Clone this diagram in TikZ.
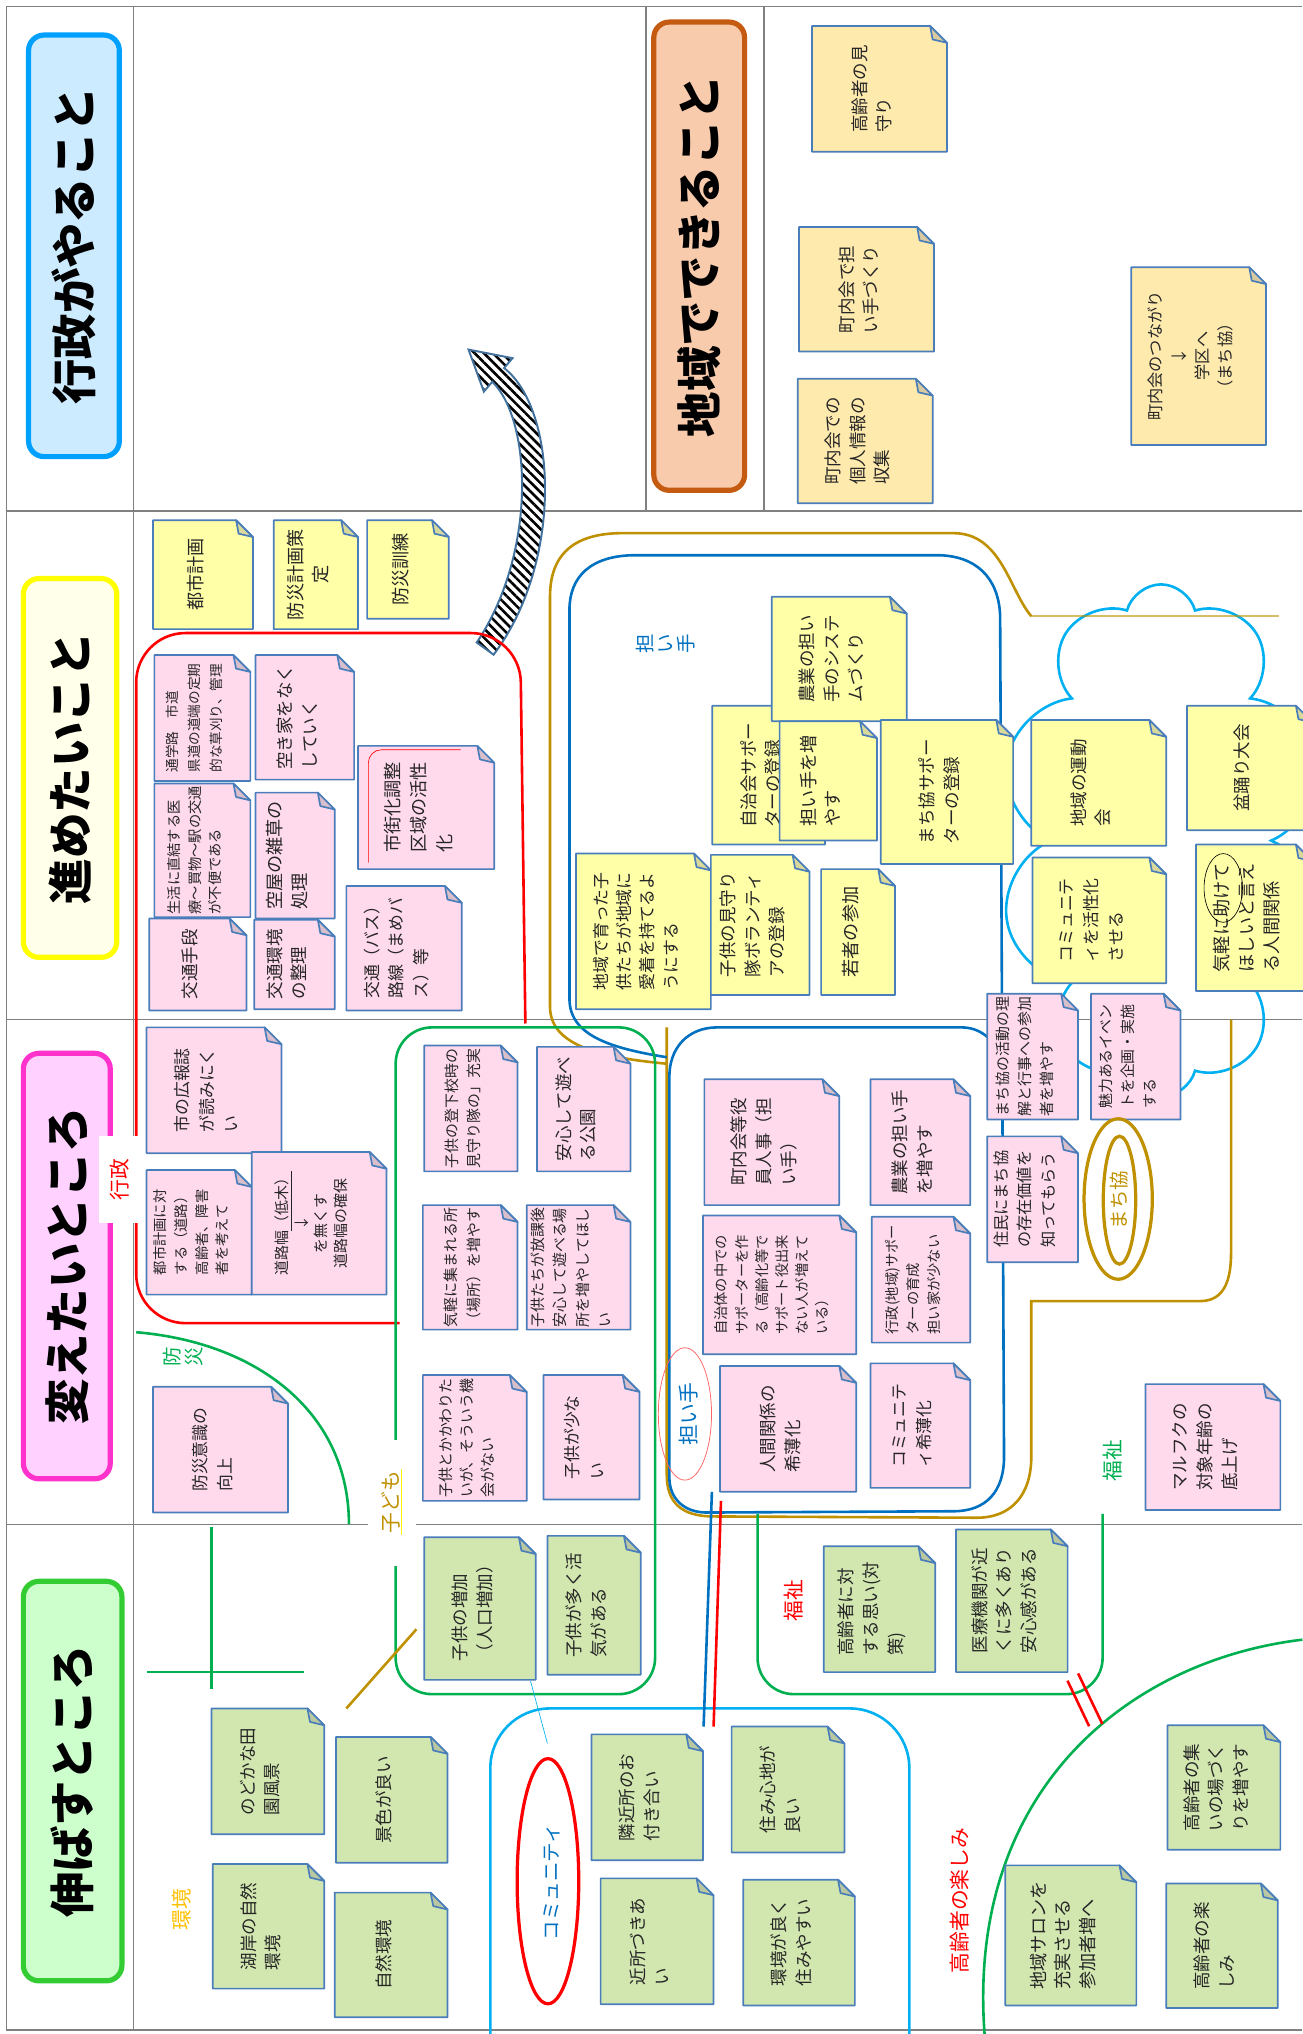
\documentclass[tikz,border=0pt]{standalone}
\usepackage{fontspec}
\setmainfont{Noto Sans CJK JP}
\usetikzlibrary{shapes.geometric,shapes.symbols,patterns.meta}
\definecolor{wakuiro}{HTML}{808080}
\definecolor{fusenwaku}{HTML}{4A7EBB}
\definecolor{fusenki}{HTML}{FFFFA8}
\definecolor{fusentan}{HTML}{FFEAAE}
\definecolor{fusenmomo}{HTML}{FFD9EC}
\definecolor{fusenmidori}{HTML}{D2E7B0}
\definecolor{gyoseiao}{HTML}{00A0FF}
\definecolor{gyoseifill}{HTML}{CDEBFF}
\definecolor{susumeki}{HTML}{FFFF00}
\definecolor{susumefill}{HTML}{FFFFEA}
\definecolor{kaetemomo}{HTML}{FF33CC}
\definecolor{kaetefill}{HTML}{FFD1FF}
\definecolor{nobasumidori}{HTML}{33CC33}
\definecolor{nobasufill}{HTML}{CCFFCC}
\definecolor{chiikicha}{HTML}{C55A11}
\definecolor{chiikifill}{HTML}{F8CBAD}
\definecolor{kiniro}{HTML}{BF9000}
\definecolor{aoiro}{HTML}{0070C0}
\definecolor{midoriiro}{HTML}{00B050}
\definecolor{mizuiro}{HTML}{00B0F0}
\definecolor{kankyoiro}{HTML}{FFC000}
\definecolor{yajiao}{HTML}{41719C}
\newcommand{\orisz}{13} % size of the folded corner
% sticky note: [text options]{name}{x1}{y1}{x2}{y2}{colour}{text}
\newcommand{\fusen}[8][]{%
  \filldraw[fusenline, fill=#7] (#3,#6) -- (#3,#4) -- (#5-\orisz,#4) -- (#5,#4+\orisz) -- (#5,#6) -- cycle;
  \filldraw[fusenline, fill=#7!70!gray] (#5-\orisz,#4) -- (#5,#4+\orisz) -- (#5-0.85*\orisz,#4+0.8*\orisz) -- cycle;
  \node[fusentext, #1] (#2) at ({(#3+#5)/2-6},{(#4+#6)/2}) {#8};}

\begin{document}
\begin{tikzpicture}[x=1pt, y=-1pt,
  waku/.style={draw=wakuiro, line width=1pt},
  midashi/.style={rotate=90, rounded corners=12pt, line width=4pt, inner sep=0pt,
    font=\bfseries\fontsize{35}{35}\selectfont},
  fusenline/.style={draw=fusenwaku, line width=1.3pt, line join=round},
  fusentext/.style={rotate=90, align=left, inner sep=0pt, text=black!85,
    font=\fontsize{13.5}{19}\selectfont},
  komidashi/.style={rotate=90, inner sep=1pt, font=\fontsize{16}{17}\selectfont},
  kinsen/.style={draw=kiniro, line width=2pt},
  aosen/.style={draw=aoiro, line width=2pt},
  akasen/.style={draw=red, line width=2pt},
  midorisen/.style={draw=midoriiro, line width=2pt},
  mizusen/.style={draw=mizuiro, line width=2pt}]
\useasboundingbox (0,0) rectangle (1004,1568);

% frame
\draw[waku] (1004,5) -- (5,5) -- (5,1565) -- (1004,1565);
\draw[waku] (103,5) -- (103,1565);
\draw[waku] (498,5) -- (498,394);
\draw[waku] (589,5) -- (589,394);
\foreach \gyo in {394,786,1175}
  \draw[waku] (5,\gyo) -- (1004,\gyo);

% headings
\node[midashi, draw=gyoseiao, fill=gyoseifill, minimum width=325pt, minimum height=70pt] (gyosei) at (57,189.5) {行政がやること};
\node[midashi, draw=susumeki, fill=susumefill, minimum width=292pt, minimum height=72pt] (susumeru) at (54,592) {進めたいこと};
\node[midashi, draw=kaetemomo, fill=kaetefill, minimum width=328pt, minimum height=67pt] (kaetai) at (51.5,976) {変えたいところ};
\node[midashi, draw=nobasumidori, fill=nobasufill, minimum width=308pt, minimum height=76pt] (nobasu) at (56,1373) {伸ばすところ};
\node[midashi, draw=chiikicha, fill=chiikifill, minimum width=361pt, minimum height=70pt] (chiiki) at (539,197.5) {地域でできること};

% curved arrow
\draw[yajiao, line width=1.5pt, preaction={fill=white},
  pattern={Lines[angle=-45, distance=5pt, line width=2pt]}, pattern color=black]
  (380.5,504.7) .. controls (434,434) and (430,316) .. (388.6,283.7) -- (395.1,276.1) -- (361.2,269.5)
  -- (373,301.9) -- (379.5,294.3) .. controls (410,324) and (414,426) .. (367.5,495.3) -- cycle;

% cloud
\node[cloud, cloud puffs=10, aspect=0.64, draw=mizuiro, line width=2pt,
  minimum width=250pt, minimum height=395pt] (kumo) at (895,648) {};

% regions
\draw[kinsen, draw opacity=0.6] (986,475) -- (795,475);
\draw[kinsen] (795,475) .. controls (778,455) and (772,411) .. (735,411) -- (480,411)
  .. controls (445,411) and (424,425) .. (424,460) -- (424,776)
  .. controls (424,805) and (460,815) .. (514,820);
\draw[kinsen] (514,792) -- (514,1137) .. controls (514,1158) and (525,1169) .. (550,1169)
  -- (753,1170) .. controls (780,1170) and (795,1152) .. (795,1123) -- (795,1003)
  -- (925,1003) .. controls (942,1003) and (949,990) .. (949,966) -- (949,786);
\draw[aosen] (514,815) .. controls (470,808) and (439,798) .. (439,770) -- (439,470)
  .. controls (439,445) and (455,428) .. (490,428) -- (722,428)
  .. controls (752,428) and (770,445) .. (771,475) -- (774,1123)
  .. controls (774,1150) and (760,1165) .. (735,1165) -- (545,1166)
  .. controls (527,1166) and (516,1155) .. (516,1139) -- (516,830)
  .. controls (516,808) and (530,792) .. (553,792) -- (741,792)
  .. controls (755,792) and (765,800) .. (773,815);
\draw[akasen, rounded corners=38pt] (308,1020) -- (105,1020) -- (105,488) -- (401,488) -- (405,789);
\draw[midorisen, rounded corners=28pt] (305,792) rectangle (505,1306);
\draw[midorisen] (105,1027) .. controls (200,1035) and (269,1090) .. (269,1175);
\draw[midorisen] (163,1177) -- (163,1302);
\draw[midorisen] (113,1289) -- (234,1289);
\draw[kinsen] (267,1317) -- (321,1256);
\draw[midorisen, rounded corners=28pt] (584,1167) -- (584,1306) -- (850,1306) -- (850,1167);
\draw[midorisen] (1004,1264) .. controls (870,1280) and (745,1380) .. (759,1568);
\draw[mizusen, rounded corners=46pt] (378,1568) -- (378,1317) -- (701,1317) -- (701,1568);
\draw[aosen] (548.8,1150) -- (542.4,1331);
\draw[akasen] (555.8,1157) -- (550.1,1331);
\draw[akasen] (822.9,1295.6) -- (839.6,1330.7);
\draw[akasen] (831.1,1290) -- (849.8,1329);

% top row notes
\fusen{mimamori}{626}{20}{730}{117}{fusentan}{高齢者の見\\守り}
\fusen{tantezukuri}{616}{175}{720}{271}{fusentan}{町内会で担\\い手づくり}
\fusen{kojinjoho}{615}{292}{719}{388}{fusentan}{町内会での\\個人情報の\\収集}
\fusen[align=center, font=\fontsize{12.5}{18}\selectfont]{tsunagari}{872}{206}{976}{343}{fusentan}{町内会のつながり\\↓\\学区へ\\（まち協）}

% notes to push forward
\fusen[align=center, font=\fontsize{14}{19}\selectfont]{toshikeikaku}{118}{401}{195}{485}{fusenki}{都市計画}
\fusen[align=center, font=\fontsize{14}{19}\selectfont]{bosaikeikaku}{211}{401}{276}{485}{fusenki}{防災計画策\\定}
\fusen[font=\fontsize{14}{19}\selectfont]{bosaikunren}{283}{401}{346}{477}{fusenki}{防災訓練}
\fusen[font=\fontsize{10.5}{17}\selectfont]{tsugakuro}{119}{505}{193}{602}{fusenmomo}{通学路　市道\\県道の道端の定期\\的な草刈り、管理}
\fusen[font=\fontsize{11}{16}\selectfont]{iryo}{119}{604}{193}{707}{fusenmomo}{生活に直結する医\\療～買物～駅の交通\\が不便である}
\fusen[align=center]{kotsushudan}{115}{708}{190}{779}{fusenmomo}{交通手段}
\fusen{akiya}{197}{505}{273}{601}{fusenmomo}{空き家をなく\\していく}
\fusen[font=\fontsize{14}{19}\selectfont]{zasso}{197}{611}{258}{708}{fusenmomo}{空屋の雑草の\\処理}
\fusen{kotsukankyo}{196}{709}{258}{778}{fusenmomo}{交通環境\\の整理}
\fusen[font=\fontsize{14}{20}\selectfont]{shigaika}{276}{575}{381}{670}{fusenmomo}{市街化調整\\区域の活性\\化}
\draw[red, line width=0.5pt, rounded corners=10pt] (284,665) -- (284,578) -- (355,578);
\fusen[font=\fontsize{13}{19}\selectfont]{basu}{267}{683}{356}{779}{fusenmomo}{交通（バス）\\路線（まめバ\\ス）等}

% helpers
\fusen{jichikai}{549}{544}{636}{651}{fusenki}{自治会サポー\\ターの登録}
\fusen{nogyosystem}{595}{460}{699}{556}{fusenki}{農業の担い\\手のシステ\\ムづくり}
\fusen[font=\fontsize{14}{19}\selectfont]{fuyasu}{601}{556}{676}{648}{fusenki}{担い手を増\\やす}
\fusen{machikyosupporter}{679}{555}{781}{666}{fusenki}{まち協サポー\\ターの登録}
\fusen[font=\fontsize{13}{18}\selectfont]{aichaku}{444}{658}{548}{778}{fusenki}{地域で育った子\\供たちが地域に\\愛着を持てるよ\\うにする}
\fusen{mimamoritai}{548}{659}{624}{767}{fusenki}{子供の見守り\\隊ボランティ\\アの登録}
\fusen[font=\fontsize{14}{19}\selectfont]{wakamono}{633}{670}{690}{767}{fusenki}{若者の参加}
\fusen{undokai}{795}{555}{899}{652}{fusenki}{地域の運動\\会}
\fusen[font=\fontsize{13}{19}\selectfont]{kasseika}{796}{661}{899}{758}{fusenki}{コミュニテ\\ィを活性化\\させる}
\fusen{bonodori}{915}{544}{1012}{640}{fusenki}{盆踊り大会}
\fusen[font=\fontsize{14}{19}\selectfont]{kigaruni}{922}{651}{1012}{764}{fusenki}{気軽に助けて\\ほしいと言え\\る人間関係}
\node[draw=black, line width=0.5pt, ellipse, minimum width=29.6pt, minimum height=53pt, inner sep=0pt] (tasukete) at (943,684.5) {};

% things to change
\fusen[font=\fontsize{13}{19}\selectfont]{kohoshi}{113}{792}{217}{889}{fusenmomo}{市の広報誌\\が読みにく\\い}
\fusen[font=\fontsize{11}{16}\selectfont]{toshikeikaku2}{113}{902}{194}{998}{fusenmomo}{都市計画に対\\する（道路）\\高齢者、障害\\者を考えて}
\fusen[align=center, font=\fontsize{11.5}{15}\selectfont]{dorohaba}{194}{888}{298}{998}{fusenmomo}{道路幅\underline{（低木）}\\↓\\を無くす\\道路幅の確保}
\fusen[font=\fontsize{11.5}{17}\selectfont]{noborigeko}{327}{806}{399}{903}{fusenmomo}{子供の登下校時の\\見守り隊の」充実}
\fusen{asoberu}{414}{807}{486}{903}{fusenmomo}{安心して遊べ\\る公園}
\fusen[font=\fontsize{11.5}{17}\selectfont]{atsumareru}{326}{929}{399}{1025}{fusenmomo}{気軽に集まれる所\\（場所）を増やす}
\fusen[font=\fontsize{11.5}{17}\selectfont]{hokago}{406}{929}{486}{1025}{fusenmomo}{子供たちが放課後\\安心して遊べる場\\所を増やしてほし\\い}
\fusen[font=\fontsize{11.5}{16}\selectfont]{kakawari}{326}{1060}{406}{1157}{fusenmomo}{子供とかかわりた\\いが、そういう機\\会がない}
\fusen[font=\fontsize{13}{19}\selectfont]{sukunai}{419}{1060}{493}{1156}{fusenmomo}{子供が少な\\い}
\fusen[font=\fontsize{13}{19}\selectfont]{bosaiishiki}{118}{1069}{222}{1166}{fusenmomo}{防災意識の\\向上}
\fusen{yakuin}{543}{832}{647}{929}{fusenmomo}{町内会等役\\員人事（担\\い手）}
\fusen[font=\fontsize{11}{15.5}\selectfont]{jichitai}{542}{937}{660}{1044}{fusenmomo}{自治体の中での\\サポーターを作\\る（高齢化等で\\サポート役出来\\ない人が増えて\\いる）}
\fusen{kihakuka}{555}{1053}{660}{1150}{fusenmomo}{人間関係の\\希薄化}
\fusen{nogyofuyasu}{671}{832}{748}{929}{fusenmomo}{農業の担い手\\を増やす}
\fusen[font=\fontsize{11}{16}\selectfont]{ikusei}{672}{938}{748}{1035}{fusenmomo}{行政(地域)サポー\\ターの育成\\担い家が少ない}
\fusen[font=\fontsize{13}{19}\selectfont]{komyukihaku}{671}{1051}{748}{1147}{fusenmomo}{コミュニテ\\ィ希薄化}
\fusen[font=\fontsize{11.5}{17}\selectfont]{machikyokatsudo}{761}{766}{831}{863}{fusenmomo}{まち協の活動の理\\解と行事への参加\\者を増やす}
\fusen[font=\fontsize{11.5}{17}\selectfont]{miryoku}{841}{766}{910}{863}{fusenmomo}{魅力あるイベン\\トを企画・実施\\する}
\fusen[font=\fontsize{12.5}{18}\selectfont]{sonzai}{761}{876}{831}{973}{fusenmomo}{住民にまち協\\の存在価値を\\知ってもらう}
\fusen{marufuku}{883}{1067}{987}{1164}{fusenmomo}{マルフクの\\対象年齢の\\底上げ}

% things to grow
\fusen{zoka}{327}{1185}{413}{1295}{fusenmidori}{子供の増加\\（人口増加）}
\fusen{kakki}{422}{1184}{494}{1291}{fusenmidori}{子供が多く活\\気がある}
\fusen{tsukiai}{456}{1337}{542}{1434}{fusenmidori}{隣近所のお\\付き合い}
\fusen{sumigokochi}{564}{1331}{651}{1428}{fusenmidori}{住み心地が\\良い}
\fusen{kinjo}{463}{1448}{550}{1545}{fusenmidori}{近所づきあ\\い}
\fusen{sumiyasui}{573}{1449}{659}{1546}{fusenmidori}{環境が良く\\住みやすい}
\fusen{omoi}{635}{1192}{721}{1289}{fusenmidori}{高齢者に対\\する思い(対\\策)}
\fusen{iryokikan}{737}{1179}{823}{1289}{fusenmidori}{医療機関が近\\くに多くあり\\安心感がある}
\fusen{tsudoi}{900}{1330}{987}{1426}{fusenmidori}{高齢者の集\\いの場づく\\りを増やす}
\fusen[font=\fontsize{14}{19}\selectfont]{salon}{775}{1438}{876}{1546}{fusenmidori}{地域サロンを\\充実させる\\参加者増へ}
\fusen{tanoshimi}{899}{1452}{985}{1548}{fusenmidori}{高齢者の楽\\しみ}
\fusen{denen}{163}{1317}{250}{1414}{fusenmidori}{のどかな田\\園風景}
\fusen{keshiki}{259}{1339}{345}{1436}{fusenmidori}{景色が良い}
\fusen{kogan}{164}{1437}{250}{1533}{fusenmidori}{湖岸の自然\\環境}
\fusen{shizen}{258}{1459}{345}{1555}{fusenmidori}{自然環境}

% labels
\node[komidashi, fill=white, text=red, minimum width=67pt, minimum height=32pt, inner sep=0pt] (gyoseilabel) at (92,909.5) {行政};
\node[komidashi, fill=white, minimum width=97pt, minimum height=37pt, inner sep=0pt] (kodomowaku) at (302.5,1158.5) {};
\node[komidashi, text=kiniro] (kodomo) at (301,1158) {子ども};
\draw[yellow, line width=1.2pt] (kodomo.south west) -- (kodomo.south east);
\node[komidashi, align=center, text=aoiro, font=\fontsize{15}{16}\selectfont] (ninaiteA) at (513,496) {担\\い\\手};
\node[draw=red!60, line width=0.6pt, ellipse, minimum width=41pt, minimum height=102pt, inner sep=0pt] (ninaitewa) at (528,1090) {};
\node[komidashi, text=aoiro] (ninaiteB) at (531,1090) {担い手};
\node[komidashi, align=center, text=midoriiro, font=\fontsize{15}{17}\selectfont] (bosai) at (141,1046) {防\\災};
\node[komidashi, text=kankyoiro] (kankyo) at (140,1472) {環境};
\node[komidashi, text=red] (fukushiA) at (612,1234) {福祉};
\node[komidashi, text=midoriiro] (fukushiB) at (857.5,1126) {福祉};
\node[komidashi, text=red] (tanoshimilabel) at (739.5,1465) {高齢者の楽しみ};
\node[draw=red, line width=2.5pt, ellipse, minimum width=47.5pt, minimum height=189pt, inner sep=0pt] (komyuwa) at (422.4,1450.2) {};
\node[komidashi, text=aoiro, font=\fontsize{15}{16}\selectfont] (komyu) at (425.6,1451) {コミュニティ};
\node[draw=kiniro, line width=2.5pt, ellipse, minimum width=52.6pt, minimum height=123.7pt, inner sep=0pt] (machikyosoto) at (862,924.3) {};
\node[draw=kiniro, line width=2.5pt, ellipse, minimum width=25pt, minimum height=98.6pt, inner sep=0pt] (machikyouchi) at (863,925.2) {};
\node[komidashi, text=kiniro, font=\fontsize{15}{16}\selectfont] (machikyo) at (863,925) {まち協};
\coordinate (zokashita) at (409,1296);
\coordinate (komyuue) at (422,1344);
\draw[mizuiro, line width=0.5pt] (zokashita) -- (komyuue);
\end{tikzpicture}
\end{document}
